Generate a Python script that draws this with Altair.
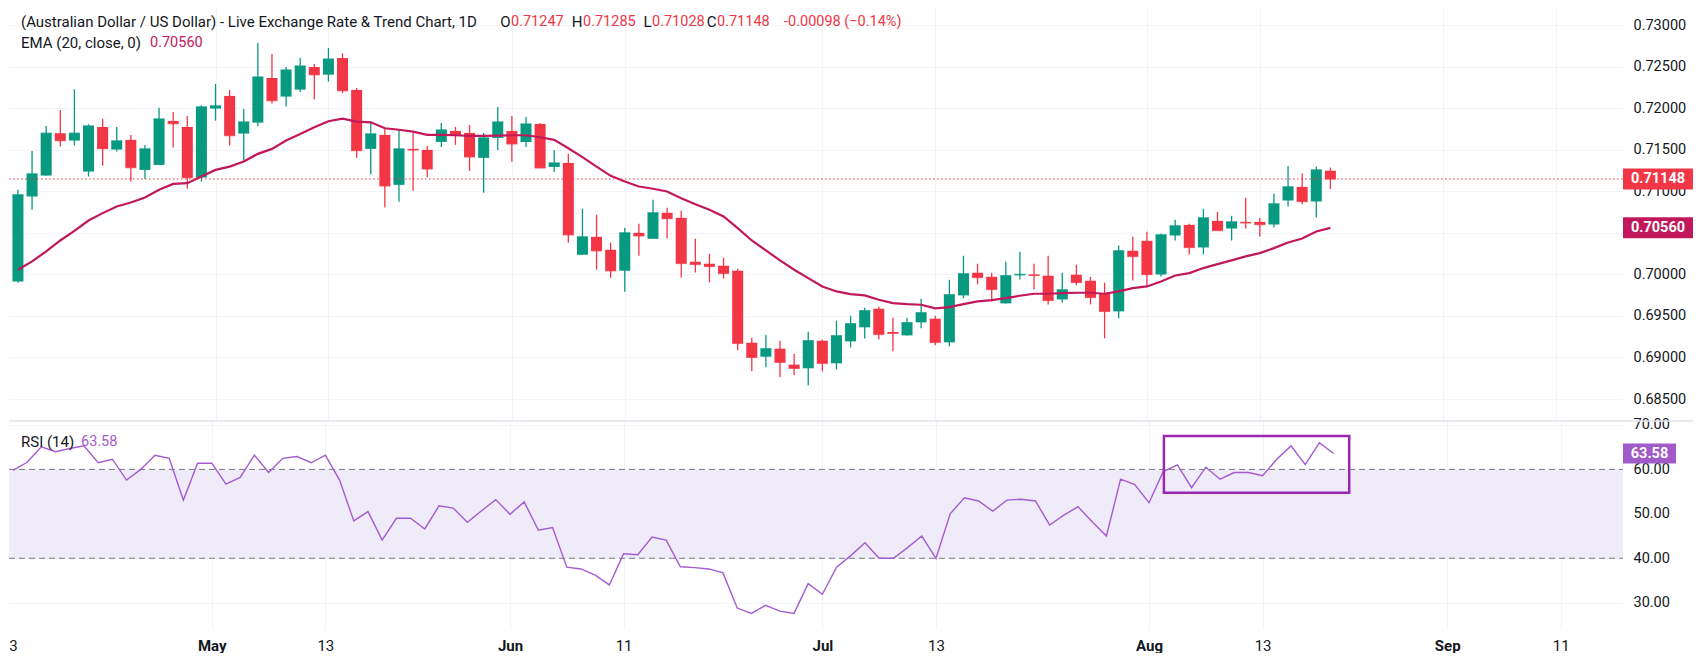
import json
import numpy as np
import pandas as pd
import altair as alt

# ---------------- data ----------------
OPEN = [0.69915, 0.70937, 0.71189, 0.71698, 0.71610, 0.71237, 0.71774, 0.71502, 0.71618, 0.71257,
        0.71317, 0.71846, 0.71774, 0.71165, 0.71995, 0.72147, 0.71694, 0.71826, 0.72363, 0.72139,
        0.72223, 0.72495, 0.72403, 0.72603, 0.72219, 0.71510, 0.71678, 0.71077, 0.71510, 0.71498,
        0.71594, 0.71726, 0.71702, 0.71402, 0.71642, 0.71726, 0.71594, 0.71810, 0.71293, 0.71341,
        0.70236, 0.70452, 0.70296, 0.70044, 0.70500, 0.70428, 0.70741, 0.70680, 0.70152, 0.70128,
        0.70104, 0.70044, 0.69178, 0.69010, 0.69106, 0.68914, 0.68870, 0.69202, 0.68930, 0.69194,
        0.69363, 0.69587, 0.69307, 0.69266, 0.69423, 0.69467, 0.69182, 0.69747, 0.70020, 0.69971,
        0.69651, 0.69988, 0.70000, 0.69984, 0.69699, 0.69996, 0.69923, 0.69771, 0.69555, 0.70284,
        0.70404, 0.69999, 0.70468, 0.70596, 0.70324, 0.70644, 0.70552, 0.70632, 0.70632, 0.70600,
        0.70889, 0.71053, 0.70877, 0.71247]
HIGH = [0.71017, 0.71486, 0.71786, 0.71978, 0.72227, 0.71806, 0.71870, 0.71774, 0.71678, 0.71558,
        0.72006, 0.71954, 0.71906, 0.72035, 0.72291, 0.72219, 0.71990, 0.72784, 0.72651, 0.72495,
        0.72603, 0.72531, 0.72724, 0.72660, 0.72243, 0.71842, 0.71758, 0.71750, 0.71702, 0.71546,
        0.71822, 0.71774, 0.71798, 0.71702, 0.72015, 0.71906, 0.71894, 0.71822, 0.71498, 0.71450,
        0.70789, 0.70717, 0.70380, 0.70560, 0.70608, 0.70897, 0.70801, 0.70765, 0.70428, 0.70248,
        0.70200, 0.70068, 0.69238, 0.69274, 0.69202, 0.69046, 0.69310, 0.69214, 0.69443, 0.69503,
        0.69599, 0.69611, 0.69479, 0.69479, 0.69707, 0.69503, 0.69935, 0.70224, 0.70128, 0.70020,
        0.70152, 0.70272, 0.70128, 0.70224, 0.70020, 0.70116, 0.69971, 0.69899, 0.70348, 0.70452,
        0.70512, 0.70488, 0.70657, 0.70608, 0.70789, 0.70753, 0.70705, 0.70921, 0.70680, 0.70969,
        0.71305, 0.71213, 0.71297, 0.71285]
LOW = [0.69900, 0.70777, 0.71189, 0.71538, 0.71550, 0.71177, 0.71309, 0.71478, 0.71117, 0.71149,
       0.71317, 0.71526, 0.71029, 0.71117, 0.71850, 0.71550, 0.71370, 0.71786, 0.72055, 0.72019,
       0.72195, 0.72103, 0.72320, 0.72179, 0.71402, 0.71201, 0.70805, 0.70873, 0.71005, 0.71169,
       0.71534, 0.71558, 0.71245, 0.70981, 0.71498, 0.71354, 0.71534, 0.71281, 0.71233, 0.70380,
       0.70236, 0.70056, 0.69960, 0.69791, 0.70224, 0.70428, 0.70432, 0.69963, 0.70024, 0.69903,
       0.69951, 0.69086, 0.68834, 0.68882, 0.68762, 0.68786, 0.68666, 0.68834, 0.68858, 0.69122,
       0.69230, 0.69218, 0.69074, 0.69266, 0.69351, 0.69146, 0.69134, 0.69711, 0.69879, 0.69675,
       0.69651, 0.69939, 0.69819, 0.69639, 0.69663, 0.69867, 0.69639, 0.69230, 0.69471, 0.69927,
       0.69855, 0.69975, 0.70408, 0.70240, 0.70240, 0.70528, 0.70408, 0.70552, 0.70456, 0.70564,
       0.70817, 0.70841, 0.70685, 0.71028]
CLOSE = [0.70957, 0.71209, 0.71698, 0.71610, 0.71698, 0.71786, 0.71514, 0.71606, 0.71285, 0.71510,
         0.71870, 0.71814, 0.71165, 0.72015, 0.72027, 0.71670, 0.71834, 0.72375, 0.72091, 0.72459,
         0.72507, 0.72403, 0.72591, 0.72211, 0.71490, 0.71690, 0.71065, 0.71510, 0.71498, 0.71269,
         0.71738, 0.71678, 0.71414, 0.71642, 0.71834, 0.71570, 0.71810, 0.71281, 0.71341, 0.70476,
         0.70452, 0.70284, 0.70044, 0.70500, 0.70464, 0.70741, 0.70672, 0.70132, 0.70120, 0.70096,
         0.70012, 0.69170, 0.69002, 0.69106, 0.68942, 0.68870, 0.69202, 0.68930, 0.69262, 0.69407,
         0.69563, 0.69278, 0.69291, 0.69419, 0.69539, 0.69182, 0.69755, 0.70007, 0.69963, 0.69819,
         0.69984, 0.70000, 0.69988, 0.69687, 0.69815, 0.69903, 0.69723, 0.69555, 0.70284, 0.70216,
         0.69999, 0.70476, 0.70584, 0.70324, 0.70680, 0.70528, 0.70632, 0.70620, 0.70600, 0.70849,
         0.71053, 0.70877, 0.71257, 0.71148]
EMA20 = [0.70056, 0.70156, 0.70276, 0.70408, 0.70524, 0.70648, 0.70737, 0.70817, 0.70865, 0.70925,
         0.71017, 0.71089, 0.71097, 0.71177, 0.71257, 0.71297, 0.71358, 0.71450, 0.71510, 0.71610,
         0.71690, 0.71770, 0.71842, 0.71874, 0.71838, 0.71830, 0.71758, 0.71740, 0.71718, 0.71678,
         0.71678, 0.71674, 0.71666, 0.71666, 0.71670, 0.71674, 0.71674, 0.71650, 0.71618, 0.71518,
         0.71410, 0.71297, 0.71185, 0.71117, 0.71057, 0.71030, 0.70997, 0.70917, 0.70845, 0.70777,
         0.70697, 0.70556, 0.70408, 0.70288, 0.70168, 0.70056, 0.69955, 0.69855, 0.69795, 0.69763,
         0.69747, 0.69695, 0.69655, 0.69643, 0.69635, 0.69591, 0.69607, 0.69643, 0.69675, 0.69691,
         0.69715, 0.69743, 0.69767, 0.69767, 0.69775, 0.69779, 0.69779, 0.69767, 0.69795, 0.69835,
         0.69855, 0.69915, 0.69987, 0.70015, 0.70076, 0.70124, 0.70168, 0.70216, 0.70256, 0.70316,
         0.70384, 0.70432, 0.70516, 0.70560]
RSI14 = [59.8, 61.6, 65.1, 64.0, 64.7, 65.3, 61.5, 62.3, 57.6, 60.0,
         63.2, 62.5, 53.1, 61.4, 61.4, 56.7, 58.2, 63.2, 59.3, 62.5,
         62.9, 61.5, 63.2, 57.6, 48.4, 50.5, 44.1, 49.0, 49.0, 46.6,
         51.8, 51.3, 48.1, 50.7, 53.2, 49.9, 52.7, 46.3, 46.9, 38.0,
         37.6, 36.2, 34.0, 41.0, 40.8, 44.8, 44.1, 38.1, 37.9, 37.6,
         36.7, 28.8, 27.6, 29.4, 28.1, 27.6, 34.3, 31.9, 38.0, 40.6,
         43.5, 40.0, 40.0, 42.4, 45.0, 40.0, 50.0, 53.6, 52.9, 50.6,
         53.1, 53.3, 52.9, 47.5, 49.7, 51.6, 48.2, 45.0, 57.8, 56.6,
         52.5, 59.5, 61.0, 55.9, 60.5, 57.8, 59.3, 59.3, 58.6, 62.3,
         65.3, 61.1, 66.0, 63.58]

TICK_POS = [0, 14, 22, 35, 43, 57, 65, 80, 88, 101, 109]
TICK_LABELS = ["3", "May", "13", "Jun", "11", "Jul", "13", "Aug", "13", "Sep", "11"]
MONTH_POS = [14, 35, 57, 80, 101]
PRICE_TICKS = [0.685, 0.690, 0.695, 0.700, 0.705, 0.710, 0.715, 0.720, 0.725, 0.730]
HIDDEN_PRICE_LABEL = 0.705          # covered by the EMA value box in the reference
RSI_TICKS = [30, 40, 50, 60, 70]
RSI_BAND = [40, 60]
LAST_PRICE = 0.71148
LAST_EMA = 0.70560
LAST_RSI = 63.58
HILITE_X = [81.05, 94.1]
HILITE_RSI = [54.75, 67.5]

TITLE = "(Australian Dollar / US Dollar) - Live Exchange Rate & Trend Chart, 1D"
OHLC_KEYS = ["O", "H", "L", "C"]
OHLC_VALS = ["0.71247", "0.71285", "0.71028", "0.71148"]
CHANGE = "-0.00098 (\u22120.14%)"
EMA_NAME = "EMA (20, close, 0)"
EMA_VAL = "0.70560"
RSI_NAME = "RSI (14)"
RSI_VAL = "63.58"

# ---------------- layout / style ----------------
W, H1, H2 = 1614, 413, 208
X_DOMAIN = [-0.28, 113.38]
P_DOMAIN = [0.68236, 0.73205]
R_DOMAIN = [24.08, 70.9]
UP, DOWN = "#089981", "#F23645"
EMA_C, RSI_C, RSI_BOX = "#C2185B", "#A35CD0", "#A05BC9"
BAND_C, DASH_C, HILITE_C = "#F0EBF9", "#787B86", "#9C27B0"
TXT, GRID = "#131722", "#F0F3FA"
FONT = "Roboto"

df = pd.DataFrame({"i": np.arange(len(OPEN)), "o": OPEN, "h": HIGH, "l": LOW, "c": CLOSE,
                   "ema": EMA20, "rsi": RSI14})
df["dir"] = np.where(df["c"] >= df["o"], "up", "down")

xs = alt.Scale(domain=X_DOMAIN, nice=False, zero=False)
ps = alt.Scale(domain=P_DOMAIN, nice=False, zero=False)
rs = alt.Scale(domain=R_DOMAIN, nice=False, zero=False)
col = alt.Color("dir:N", scale=alt.Scale(domain=["up", "down"], range=[UP, DOWN]), legend=None)

XAX_TOP = alt.Axis(values=TICK_POS[1:], labels=False, ticks=False, domain=False, grid=True, title=None,
                   gridColor=GRID)
YAX_TOP = alt.Axis(orient="right", values=PRICE_TICKS, ticks=False, domain=False, grid=True,
                   labelPadding=10, title=None, gridColor=GRID, labelFont=FONT, labelFontSize=14.5,
                   labelColor=TXT,
                   labelExpr="abs(datum.value - %s) < 1e-7 ? '' : format(datum.value, '.5f')" % HIDDEN_PRICE_LABEL)
label_expr = "%s[indexof(%s, datum.value)]" % (json.dumps(TICK_LABELS), json.dumps(TICK_POS))
XAX_BOT = alt.Axis(values=TICK_POS, labelExpr=label_expr, ticks=False, domain=False, grid=True,
                   title=None, labelPadding=9, labelFont=FONT, labelFontSize=15, labelColor=TXT,
                   gridColor=GRID,
                   labelFontWeight={"condition": {"test": "indexof(%s, datum.value) >= 0" % json.dumps(MONTH_POS),
                                                  "value": "bold"}, "value": "normal"},
                   gridOpacity={"condition": {"test": "datum.value == 0", "value": 0}, "value": 1})
YAX_BOT = alt.Axis(orient="right", values=RSI_TICKS, format=".2f", ticks=False, domain=False,
                   grid=True, labelPadding=10, title=None, gridColor=GRID, labelFont=FONT,
                   labelFontSize=14.5, labelColor=TXT)

def X(f, ax):
    return alt.X(f, scale=xs, axis=ax)

def PY(f):
    return alt.Y(f, scale=ps, axis=YAX_TOP)

def RY(f):
    return alt.Y(f, scale=rs, axis=YAX_BOT)

def txt(x, y, s, color, size=15, weight="normal", align="left"):
    return alt.Chart(pd.DataFrame({"s": [s]})).mark_text(
        align=align, baseline="middle", font=FONT, fontSize=size, fontWeight=weight, color=color
    ).encode(x=alt.value(x), y=alt.value(y), text="s:N")

def value_box(v, text, fill, scale_y, half_px, domain, height, width):
    half = half_px * (domain[1] - domain[0]) / height
    d = pd.DataFrame({"v": [v], "s": [text]})
    box = alt.Chart(d).transform_calculate(lo="datum.v - %f" % half, hi="datum.v + %f" % half).mark_rect(
        fill=fill).encode(x=alt.value(W), x2=alt.value(W + width), y=scale_y("lo:Q"), y2="hi:Q")
    lab = alt.Chart(d).mark_text(align="center", baseline="middle", font=FONT, fontSize=14.5,
                                 fontWeight="bold", color="white").encode(
        x=alt.value(W + width / 2), y=scale_y("v:Q"), text="s:N")
    return [box, lab]

# ---------------- price panel ----------------
wicks = alt.Chart(df).mark_rule(strokeWidth=1.3).encode(x=X("i:Q", XAX_TOP), y=PY("l:Q"), y2="h:Q", color=col)
bodies = alt.Chart(df).mark_bar(size=11).encode(x=X("i:Q", XAX_TOP), y=PY("o:Q"), y2="c:Q", color=col)
doji = alt.Chart(df).mark_tick(orient="horizontal", size=11, thickness=1.4).encode(
    x=X("i:Q", XAX_TOP), y=PY("c:Q"), color=col)
ema_line = alt.Chart(df).mark_line(color=EMA_C, strokeWidth=2.2).encode(x=X("i:Q", XAX_TOP), y=PY("ema:Q"))

pline = alt.Chart(pd.DataFrame({"v": [LAST_PRICE]})).mark_rule(
    color=DOWN, strokeWidth=1, strokeDash=[1.5, 2.5]).encode(y=PY("v:Q"), x=alt.value(0), x2=alt.value(W))
pboxes = (value_box(LAST_PRICE, "%.5f" % LAST_PRICE, DOWN, PY, 10.5, P_DOMAIN, H1, 70)
          + value_box(LAST_EMA, "%.5f" % LAST_EMA, EMA_C, PY, 10.5, P_DOMAIN, H1, 70))

head = [txt(12, 14, TITLE, TXT)]
val_x = [502, 574, 643, 708]
for k, v, vx in zip(OHLC_KEYS, OHLC_VALS, val_x):
    head.append(txt(vx - 0.5, 14, k, TXT, align="right"))
    head.append(txt(vx, 14, v, DOWN, size=14.5))
head.append(txt(775, 14, CHANGE, DOWN, size=14.5))
head.append(txt(12, 35, EMA_NAME, TXT))
head.append(txt(141, 35, EMA_VAL, EMA_C, size=14.5))

top = alt.layer(wicks, bodies, doji, ema_line, pline, *pboxes, *head).properties(width=W, height=H1)

# ---------------- RSI panel ----------------
band = alt.Chart(pd.DataFrame({"a": [RSI_BAND[0]], "b": [RSI_BAND[1]]})).mark_rect(fill=BAND_C).encode(
    x=alt.value(0), x2=alt.value(W), y=RY("a:Q"), y2="b:Q")
dashes = alt.Chart(pd.DataFrame({"v": RSI_BAND})).mark_rule(color=DASH_C, strokeWidth=1, strokeDash=[6, 4]).encode(
    y=RY("v:Q"), x=alt.value(0), x2=alt.value(W))
rsi_line = alt.Chart(df).mark_line(color=RSI_C, strokeWidth=1.4).encode(x=X("i:Q", XAX_BOT), y=RY("rsi:Q"))
hl = alt.Chart(pd.DataFrame({"x1": [HILITE_X[0]], "x2": [HILITE_X[1]], "y1": [HILITE_RSI[0]], "y2": [HILITE_RSI[1]]})).mark_rect(
    fillOpacity=0, stroke=HILITE_C, strokeWidth=2.5).encode(x=X("x1:Q", XAX_BOT), x2="x2:Q", y=RY("y1:Q"), y2="y2:Q")
rboxes = value_box(LAST_RSI, "%.2f" % LAST_RSI, RSI_BOX, RY, 10, R_DOMAIN, H2, 53)
sep = alt.Chart(pd.DataFrame({"z": [0]})).mark_rule(color="#E0E3EB", strokeWidth=1.5).encode(
    x=alt.value(0), x2=alt.value(W + 70), y=alt.value(0))
rsi_head = [txt(12, 21, RSI_NAME, TXT), txt(72, 21, RSI_VAL, RSI_C, size=14.5)]

bot = alt.layer(band, dashes, rsi_line, hl, *rboxes, sep, *rsi_head).properties(width=W, height=H2)

chart = alt.vconcat(top, bot, spacing=0, bounds="flush").configure_view(stroke=None).configure_axis(
    labelFont=FONT, labelFontSize=14.5, labelColor=TXT, gridColor=GRID, gridWidth=1
).properties(background="white", padding=0)

chart.save("out.html", embed_options={"renderer": "svg", "actions": False})
